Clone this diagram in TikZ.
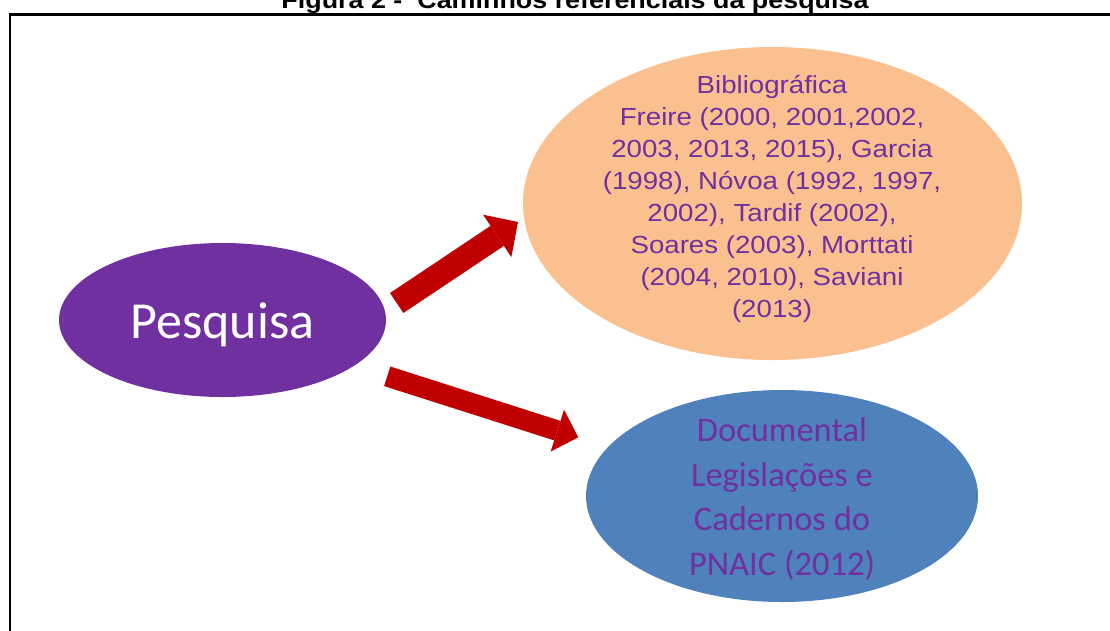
\documentclass[tikz,border=0pt]{standalone}
\usepackage{fontspec}
\setmainfont{Liberation Sans}
\newfontfamily\arialx[FakeStretch=1.12]{Liberation Sans}
\newfontfamily\calib{Carlito}
\usetikzlibrary{shapes.geometric,arrows.meta}
\definecolor{purp}{HTML}{7030A0}
\definecolor{peach}{HTML}{FAC090}
\definecolor{steel}{HTML}{4F81BD}
\definecolor{darkred}{HTML}{C00000}
\begin{document}
\begin{tikzpicture}[x=1pt,y=-1pt,
  oval/.style={ellipse, draw=none, inner sep=0pt},
  bigarrow/.style={draw=darkred, line cap=butt},
  bibfont/.style={font=\arialx\fontsize{24.7}{32}\selectfont, text=purp, align=center},
  docfont/.style={font=\calib\fontsize{34.5}{44.5}\selectfont, text=purp, align=center},
]
\useasboundingbox (0,0) rectangle (1110,630);
\begin{scope}
\clip (0,0) rectangle (1110,630);
\node[anchor=base, inner sep=0pt, font=\arialx\bfseries\fontsize{24}{28}\selectfont] (title) at (575,8) {Figura 2 -\ \ Caminhos referenciais da pesquisa};
\draw[line width=2.2pt] (10,640) -- (10,14.5) -- (1120,14.5);
\end{scope}

\node[oval, fill=purp, minimum width=327pt, minimum height=154pt] (pesq) at (222.5,320) {};
\node[oval, fill=peach, minimum width=499pt, minimum height=313pt] (biblio) at (772.5,203.5) {};
\node[oval, fill=steel, minimum width=392pt, minimum height=212pt] (docum) at (782,496) {};

\node[font=\calib\fontsize{52}{62}\selectfont, text=white, inner sep=0pt] (pesqtxt) at (222.5,325) {Pesquisa};
\node[bibfont, inner sep=0pt] (bibtxt) at (772,199) {Bibliográfica\\Freire (2000, 2001,2002,\\2003, 2013, 2015), Garcia\\(1998), Nóvoa (1992, 1997,\\2002), Tardif (2002),\\Soares (2003), Morttati\\(2004, 2010), Saviani\\(2013)};
\node[docfont, inner sep=0pt] (doctxt) at (782,499) {Documental\\Legislações e\\Cadernos do\\PNAIC (2012)};

\coordinate (a1s) at (396.7,303);
\coordinate (a1e) at (518,222);
\coordinate (a2s) at (387.2,376.3);
\coordinate (a2e) at (578.3,437.3);
\draw[bigarrow, line width=24pt, -{Triangle[length=25pt,width=51pt,line width=0pt]}] (a1s) -- (a1e);
\draw[bigarrow, line width=20.5pt, -{Triangle[length=22pt,width=44pt,line width=0pt]}] (a2s) -- (a2e);
\end{tikzpicture}
\end{document}
